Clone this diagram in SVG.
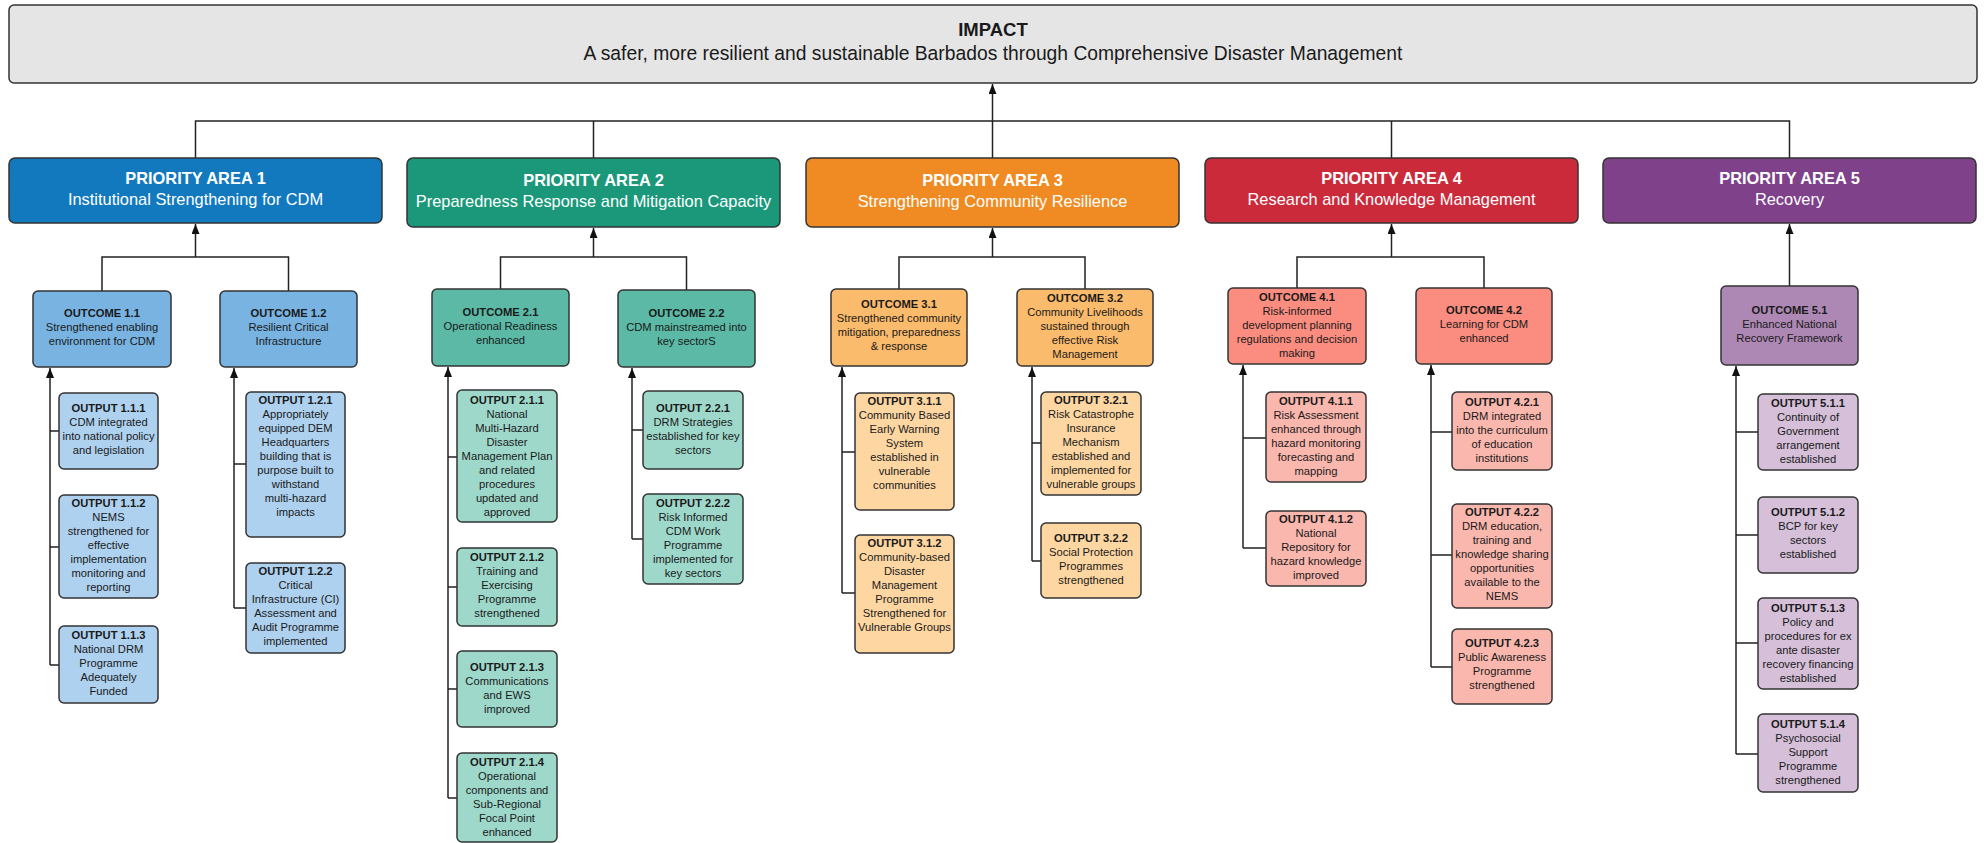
<svg xmlns="http://www.w3.org/2000/svg" width="1986" height="843" viewBox="0 0 1986 843">
<style>
text{font-family:"Liberation Sans",Arial,sans-serif;text-anchor:middle}
.box{stroke:#333;stroke-width:1.5}
.pat{font-size:16.4px;font-weight:bold;fill:#fff}
.pas{font-size:16.4px;fill:#fff}
.t{font-size:11.2px;fill:#1a1a1a}
.b{font-weight:bold}
.c{fill:none;stroke:#222;stroke-width:1.5}
.a{marker-end:url(#arr)}
</style>
<defs>
<marker id="arr" viewBox="0 0 10 8" refX="10" refY="4" markerWidth="10" markerHeight="8" markerUnits="userSpaceOnUse" orient="auto"><path d="M0,0L10,4L0,8z" fill="#111"/></marker>
</defs>
<rect width="1986" height="843" fill="#fff"/>
<g id="connectors">
<path class="c a" d="M992.5,158V84"/>
<path class="c" d="M195.5,158V121H1789.5V158M593.5,121V158M1391.5,121V158"/>
<path class="c a" d="M195.5,257V224"/><path class="c" d="M102,291V257H288.5V291"/>
<path class="c a" d="M593.5,257V228"/><path class="c" d="M500.5,289V257H686.5V290"/>
<path class="c a" d="M992.5,257V228"/><path class="c" d="M899,289V257H1085V289"/>
<path class="c a" d="M1391.5,257V224"/><path class="c" d="M1297,288V257H1484V288"/>
<path class="c a" d="M1789.5,286V224"/>
<path class="c a" d="M50,665V368"/><path class="c" d="M50,431H59M50,547H59M50,665H59"/>
<path class="c a" d="M234,608V368"/><path class="c" d="M234,464H246M234,608H246"/>
<path class="c a" d="M448,798V367"/><path class="c" d="M448,457H457M448,587H457M448,689H457M448,798H457"/>
<path class="c a" d="M632,539V368"/><path class="c" d="M632,430H643M632,539H643"/>
<path class="c a" d="M842,593V367"/><path class="c" d="M842,452H855M842,593H855"/>
<path class="c a" d="M1032,561V367"/><path class="c" d="M1032,443H1041M1032,561H1041"/>
<path class="c a" d="M1243,548V365"/><path class="c" d="M1243,438H1266M1243,548H1266"/>
<path class="c a" d="M1431,667V365"/><path class="c" d="M1431,432H1452M1431,555H1452M1431,667H1452"/>
<path class="c a" d="M1736,754V366"/><path class="c" d="M1736,432H1758M1736,535H1758M1736,643H1758M1736,754H1758"/>
</g>
<g id="impact">
<rect class="box" x="9" y="5" width="1968" height="78" rx="5" fill="#e5e5e5"/>
<text x="993" y="36" style="font-size:18.5px;font-weight:bold;fill:#1a1a1a">IMPACT</text>
<text x="993" y="60" style="font-size:19.3px;fill:#1a1a1a">A safer, more resilient and sustainable Barbados through Comprehensive Disaster Management</text>
</g>
<g id="pa1"><rect class="box" x="9" y="158" width="373" height="65" rx="6" fill="#1279bf"/><text class="pat" x="195.5" y="184">PRIORITY AREA 1</text><text class="pas" x="195.5" y="205">Institutional Strengthening for CDM</text></g>
<g id="pa2"><rect class="box" x="407" y="158" width="373" height="69" rx="6" fill="#1b977a"/><text class="pat" x="593.5" y="186">PRIORITY AREA 2</text><text class="pas" x="593.5" y="207">Preparedness Response and Mitigation Capacity</text></g>
<g id="pa3"><rect class="box" x="806" y="158" width="373" height="69" rx="6" fill="#ef8b22"/><text class="pat" x="992.5" y="186">PRIORITY AREA 3</text><text class="pas" x="992.5" y="207">Strengthening Community Resilience</text></g>
<g id="pa4"><rect class="box" x="1205" y="158" width="373" height="65" rx="6" fill="#cb2a3b"/><text class="pat" x="1391.5" y="184">PRIORITY AREA 4</text><text class="pas" x="1391.5" y="205">Research and Knowledge Management</text></g>
<g id="pa5"><rect class="box" x="1603" y="158" width="373" height="65" rx="6" fill="#7e418a"/><text class="pat" x="1789.5" y="184">PRIORITY AREA 5</text><text class="pas" x="1789.5" y="205">Recovery</text></g>

<g id="outcome11"><rect class="box" x="33" y="291" width="138" height="76" rx="5" fill="#78b3e2"/><text class="t" y="317"><tspan class="b" x="102">OUTCOME 1.1</tspan><tspan x="102" dy="14">Strengthened enabling</tspan><tspan x="102" dy="14">environment for CDM</tspan></text></g>
<g id="outcome12"><rect class="box" x="220" y="291" width="137" height="76" rx="5" fill="#78b3e2"/><text class="t" y="317"><tspan class="b" x="288.5">OUTCOME 1.2</tspan><tspan x="288.5" dy="14">Resilient Critical</tspan><tspan x="288.5" dy="14">Infrastructure</tspan></text></g>
<g id="outcome21"><rect class="box" x="432" y="289" width="137" height="77" rx="5" fill="#5bb9a5"/><text class="t" y="316"><tspan class="b" x="500.5">OUTCOME 2.1</tspan><tspan x="500.5" dy="14">Operational Readiness</tspan><tspan x="500.5" dy="14">enhanced</tspan></text></g>
<g id="outcome22"><rect class="box" x="618" y="290" width="137" height="77" rx="5" fill="#5bb9a5"/><text class="t" y="317"><tspan class="b" x="686.5">OUTCOME 2.2</tspan><tspan x="686.5" dy="14">CDM mainstreamed into</tspan><tspan x="686.5" dy="14">key sectorS</tspan></text></g>
<g id="outcome31"><rect class="box" x="831" y="289" width="136" height="77" rx="5" fill="#fbbb6c"/><text class="t" y="308"><tspan class="b" x="899">OUTCOME 3.1</tspan><tspan x="899" dy="14">Strengthened community</tspan><tspan x="899" dy="14">mitigation, preparedness</tspan><tspan x="899" dy="14">&amp; response</tspan></text></g>
<g id="outcome32"><rect class="box" x="1017" y="289" width="136" height="77" rx="5" fill="#fbbb6c"/><text class="t" y="302"><tspan class="b" x="1085">OUTCOME 3.2</tspan><tspan x="1085" dy="14">Community Livelihoods</tspan><tspan x="1085" dy="14">sustained through</tspan><tspan x="1085" dy="14">effective Risk</tspan><tspan x="1085" dy="14">Management</tspan></text></g>
<g id="outcome41"><rect class="box" x="1228" y="288" width="138" height="76" rx="5" fill="#fa8d80"/><text class="t" y="301"><tspan class="b" x="1297">OUTCOME 4.1</tspan><tspan x="1297" dy="14">Risk-informed</tspan><tspan x="1297" dy="14">development planning</tspan><tspan x="1297" dy="14">regulations and decision</tspan><tspan x="1297" dy="14">making</tspan></text></g>
<g id="outcome42"><rect class="box" x="1416" y="288" width="136" height="76" rx="5" fill="#fa8d80"/><text class="t" y="314"><tspan class="b" x="1484">OUTCOME 4.2</tspan><tspan x="1484" dy="14">Learning for CDM</tspan><tspan x="1484" dy="14">enhanced</tspan></text></g>
<g id="outcome51"><rect class="box" x="1721" y="286" width="137" height="79" rx="5" fill="#ae88b4"/><text class="t" y="314"><tspan class="b" x="1789.5">OUTCOME 5.1</tspan><tspan x="1789.5" dy="14">Enhanced National</tspan><tspan x="1789.5" dy="14">Recovery Framework</tspan></text></g>

<g id="output111"><rect class="box" x="59" y="393" width="99" height="76" rx="5" fill="#aed1ef"/><text class="t" y="412"><tspan class="b" x="108.5">OUTPUT 1.1.1</tspan><tspan x="108.5" dy="14">CDM integrated</tspan><tspan x="108.5" dy="14">into national policy</tspan><tspan x="108.5" dy="14">and legislation</tspan></text></g>
<g id="output112"><rect class="box" x="59" y="495" width="99" height="103" rx="5" fill="#aed1ef"/><text class="t" y="507"><tspan class="b" x="108.5">OUTPUT 1.1.2</tspan><tspan x="108.5" dy="14">NEMS</tspan><tspan x="108.5" dy="14">strengthened for</tspan><tspan x="108.5" dy="14">effective</tspan><tspan x="108.5" dy="14">implementation</tspan><tspan x="108.5" dy="14">monitoring and</tspan><tspan x="108.5" dy="14">reporting</tspan></text></g>
<g id="output113"><rect class="box" x="59" y="626" width="99" height="77" rx="5" fill="#aed1ef"/><text class="t" y="639"><tspan class="b" x="108.5">OUTPUT 1.1.3</tspan><tspan x="108.5" dy="14">National DRM</tspan><tspan x="108.5" dy="14">Programme</tspan><tspan x="108.5" dy="14">Adequately</tspan><tspan x="108.5" dy="14">Funded</tspan></text></g>
<g id="output121"><rect class="box" x="246" y="392" width="99" height="145" rx="5" fill="#aed1ef"/><text class="t" y="404"><tspan class="b" x="295.5">OUTPUT 1.2.1</tspan><tspan x="295.5" dy="14">Appropriately</tspan><tspan x="295.5" dy="14">equipped DEM</tspan><tspan x="295.5" dy="14">Headquarters</tspan><tspan x="295.5" dy="14">building that is</tspan><tspan x="295.5" dy="14">purpose built to</tspan><tspan x="295.5" dy="14">withstand</tspan><tspan x="295.5" dy="14">multi-hazard</tspan><tspan x="295.5" dy="14">impacts</tspan></text></g>
<g id="output122"><rect class="box" x="246" y="563" width="99" height="90" rx="5" fill="#aed1ef"/><text class="t" y="575"><tspan class="b" x="295.5">OUTPUT 1.2.2</tspan><tspan x="295.5" dy="14">Critical</tspan><tspan x="295.5" dy="14">Infrastructure (CI)</tspan><tspan x="295.5" dy="14">Assessment and</tspan><tspan x="295.5" dy="14">Audit Programme</tspan><tspan x="295.5" dy="14">implemented</tspan></text></g>

<g id="output211"><rect class="box" x="457" y="390" width="100" height="132" rx="5" fill="#9ed8ca"/><text class="t" y="404"><tspan class="b" x="507">OUTPUT 2.1.1</tspan><tspan x="507" dy="14">National</tspan><tspan x="507" dy="14">Multi-Hazard</tspan><tspan x="507" dy="14">Disaster</tspan><tspan x="507" dy="14">Management Plan</tspan><tspan x="507" dy="14">and related</tspan><tspan x="507" dy="14">procedures</tspan><tspan x="507" dy="14">updated and</tspan><tspan x="507" dy="14">approved</tspan></text></g>
<g id="output212"><rect class="box" x="457" y="548" width="100" height="78" rx="5" fill="#9ed8ca"/><text class="t" y="561"><tspan class="b" x="507">OUTPUT 2.1.2</tspan><tspan x="507" dy="14">Training and</tspan><tspan x="507" dy="14">Exercising</tspan><tspan x="507" dy="14">Programme</tspan><tspan x="507" dy="14">strengthened</tspan></text></g>
<g id="output213"><rect class="box" x="457" y="651" width="100" height="76" rx="5" fill="#9ed8ca"/><text class="t" y="671"><tspan class="b" x="507">OUTPUT 2.1.3</tspan><tspan x="507" dy="14">Communications</tspan><tspan x="507" dy="14">and EWS</tspan><tspan x="507" dy="14">improved</tspan></text></g>
<g id="output214"><rect class="box" x="457" y="753" width="100" height="89" rx="5" fill="#9ed8ca"/><text class="t" y="766"><tspan class="b" x="507">OUTPUT 2.1.4</tspan><tspan x="507" dy="14">Operational</tspan><tspan x="507" dy="14">components and</tspan><tspan x="507" dy="14">Sub-Regional</tspan><tspan x="507" dy="14">Focal Point</tspan><tspan x="507" dy="14">enhanced</tspan></text></g>
<g id="output221"><rect class="box" x="643" y="391" width="100" height="78" rx="5" fill="#9ed8ca"/><text class="t" y="412"><tspan class="b" x="693">OUTPUT 2.2.1</tspan><tspan x="693" dy="14">DRM Strategies</tspan><tspan x="693" dy="14">established for key</tspan><tspan x="693" dy="14">sectors</tspan></text></g>
<g id="output222"><rect class="box" x="643" y="494" width="100" height="90" rx="5" fill="#9ed8ca"/><text class="t" y="507"><tspan class="b" x="693">OUTPUT 2.2.2</tspan><tspan x="693" dy="14">Risk Informed</tspan><tspan x="693" dy="14">CDM Work</tspan><tspan x="693" dy="14">Programme</tspan><tspan x="693" dy="14">implemented for</tspan><tspan x="693" dy="14">key sectors</tspan></text></g>

<g id="output311"><rect class="box" x="855" y="393" width="99" height="117" rx="5" fill="#fdd6a2"/><text class="t" y="405"><tspan class="b" x="904.5">OUTPUT 3.1.1</tspan><tspan x="904.5" dy="14">Community Based</tspan><tspan x="904.5" dy="14">Early Warning</tspan><tspan x="904.5" dy="14">System</tspan><tspan x="904.5" dy="14">established in</tspan><tspan x="904.5" dy="14">vulnerable</tspan><tspan x="904.5" dy="14">communities</tspan></text></g>
<g id="output312"><rect class="box" x="855" y="535" width="99" height="118" rx="5" fill="#fdd6a2"/><text class="t" y="547"><tspan class="b" x="904.5">OUTPUT 3.1.2</tspan><tspan x="904.5" dy="14">Community-based</tspan><tspan x="904.5" dy="14">Disaster</tspan><tspan x="904.5" dy="14">Management</tspan><tspan x="904.5" dy="14">Programme</tspan><tspan x="904.5" dy="14">Strengthened for</tspan><tspan x="904.5" dy="14">Vulnerable Groups</tspan></text></g>
<g id="output321"><rect class="box" x="1041" y="392" width="100" height="103" rx="5" fill="#fdd6a2"/><text class="t" y="404"><tspan class="b" x="1091">OUTPUT 3.2.1</tspan><tspan x="1091" dy="14">Risk Catastrophe</tspan><tspan x="1091" dy="14">Insurance</tspan><tspan x="1091" dy="14">Mechanism</tspan><tspan x="1091" dy="14">established and</tspan><tspan x="1091" dy="14">implemented for</tspan><tspan x="1091" dy="14">vulnerable groups</tspan></text></g>
<g id="output322"><rect class="box" x="1041" y="523" width="100" height="75" rx="5" fill="#fdd6a2"/><text class="t" y="542"><tspan class="b" x="1091">OUTPUT 3.2.2</tspan><tspan x="1091" dy="14">Social Protection</tspan><tspan x="1091" dy="14">Programmes</tspan><tspan x="1091" dy="14">strengthened</tspan></text></g>

<g id="output411"><rect class="box" x="1266" y="392" width="100" height="90" rx="5" fill="#fab7ae"/><text class="t" y="405"><tspan class="b" x="1316">OUTPUT 4.1.1</tspan><tspan x="1316" dy="14">Risk Assessment</tspan><tspan x="1316" dy="14">enhanced through</tspan><tspan x="1316" dy="14">hazard monitoring</tspan><tspan x="1316" dy="14">forecasting and</tspan><tspan x="1316" dy="14">mapping</tspan></text></g>
<g id="output412"><rect class="box" x="1266" y="511" width="100" height="75" rx="5" fill="#fab7ae"/><text class="t" y="523"><tspan class="b" x="1316">OUTPUT 4.1.2</tspan><tspan x="1316" dy="14">National</tspan><tspan x="1316" dy="14">Repository for</tspan><tspan x="1316" dy="14">hazard knowledge</tspan><tspan x="1316" dy="14">improved</tspan></text></g>
<g id="output421"><rect class="box" x="1452" y="392" width="100" height="78" rx="5" fill="#fab7ae"/><text class="t" y="406"><tspan class="b" x="1502">OUTPUT 4.2.1</tspan><tspan x="1502" dy="14">DRM integrated</tspan><tspan x="1502" dy="14">into the curriculum</tspan><tspan x="1502" dy="14">of education</tspan><tspan x="1502" dy="14">institutions</tspan></text></g>
<g id="output422"><rect class="box" x="1452" y="504" width="100" height="104" rx="5" fill="#fab7ae"/><text class="t" y="516"><tspan class="b" x="1502">OUTPUT 4.2.2</tspan><tspan x="1502" dy="14">DRM education,</tspan><tspan x="1502" dy="14">training and</tspan><tspan x="1502" dy="14">knowledge sharing</tspan><tspan x="1502" dy="14">opportunities</tspan><tspan x="1502" dy="14">available to the</tspan><tspan x="1502" dy="14">NEMS</tspan></text></g>
<g id="output423"><rect class="box" x="1452" y="629" width="100" height="75" rx="5" fill="#fab7ae"/><text class="t" y="647"><tspan class="b" x="1502">OUTPUT 4.2.3</tspan><tspan x="1502" dy="14">Public Awareness</tspan><tspan x="1502" dy="14">Programme</tspan><tspan x="1502" dy="14">strengthened</tspan></text></g>

<g id="output511"><rect class="box" x="1758" y="394" width="100" height="76" rx="5" fill="#d5bfd9"/><text class="t" y="407"><tspan class="b" x="1808">OUTPUT 5.1.1</tspan><tspan x="1808" dy="14">Continuity of</tspan><tspan x="1808" dy="14">Government</tspan><tspan x="1808" dy="14">arrangement</tspan><tspan x="1808" dy="14">established</tspan></text></g>
<g id="output512"><rect class="box" x="1758" y="497" width="100" height="76" rx="5" fill="#d5bfd9"/><text class="t" y="516"><tspan class="b" x="1808">OUTPUT 5.1.2</tspan><tspan x="1808" dy="14">BCP for key</tspan><tspan x="1808" dy="14">sectors</tspan><tspan x="1808" dy="14">established</tspan></text></g>
<g id="output513"><rect class="box" x="1758" y="598" width="100" height="91" rx="5" fill="#d5bfd9"/><text class="t" y="612"><tspan class="b" x="1808">OUTPUT 5.1.3</tspan><tspan x="1808" dy="14">Policy and</tspan><tspan x="1808" dy="14">procedures for ex</tspan><tspan x="1808" dy="14">ante disaster</tspan><tspan x="1808" dy="14">recovery financing</tspan><tspan x="1808" dy="14">established</tspan></text></g>
<g id="output514"><rect class="box" x="1758" y="714" width="100" height="78" rx="5" fill="#d5bfd9"/><text class="t" y="728"><tspan class="b" x="1808">OUTPUT 5.1.4</tspan><tspan x="1808" dy="14">Psychosocial</tspan><tspan x="1808" dy="14">Support</tspan><tspan x="1808" dy="14">Programme</tspan><tspan x="1808" dy="14">strengthened</tspan></text></g>
</svg>
